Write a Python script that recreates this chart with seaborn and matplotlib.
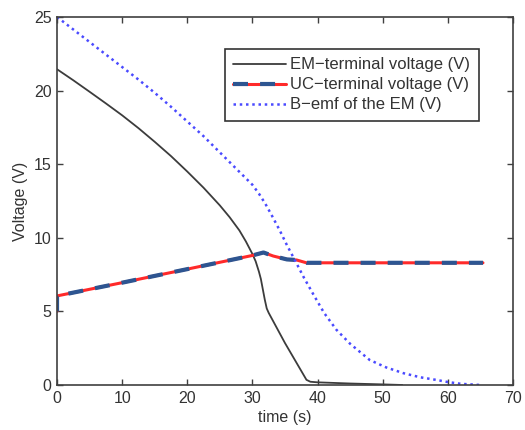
import numpy as np
import pandas as pd
import seaborn as sns
import matplotlib
matplotlib.use("Agg")
import matplotlib.pyplot as plt
from matplotlib.legend_handler import HandlerTuple

# EM terminal voltage (V)
em_time = [0, 2.5, 5, 7.5, 10, 12.5, 15, 17.5, 20, 22.5, 25, 26.5, 28, 29, 30, 30.5,
           31, 31.3, 31.6, 31.9, 32.2, 32.5, 35, 38.3, 38.9, 40, 45, 50, 53]
em_volt = [21.45, 20.7, 19.92, 19.13, 18.32, 17.45, 16.52, 15.55, 14.5, 13.4, 12.2, 11.4,
           10.5, 9.75, 8.9, 8.4, 7.7, 7.2, 6.5, 5.8, 5.2, 4.9, 2.85, 0.35, 0.22, 0.18,
           0.1, 0.04, 0.0]

# UC terminal voltage (V)
uc_time = [0, 0, 10, 20, 30, 31.7, 33.2, 35.3, 36.8, 38.3, 45, 55, 65.4]
uc_volt = [5.0, 6.05, 6.95, 7.87, 8.8, 9.0, 8.76, 8.53, 8.49, 8.3, 8.3, 8.3, 8.3]

# Back-emf of the EM (V)
bemf_time = [0, 2.5, 5, 7.5, 10, 12.5, 15, 17.5, 20, 22.5, 25, 27.5, 30, 31, 32, 33,
             34.2, 35.3, 36.5, 37.9, 39.3, 41, 42.9, 45, 48, 50.5, 53.2, 55.8, 58.3,
             60, 62, 65]
bemf_volt = [25, 24.15, 23.3, 22.45, 21.6, 20.75, 19.85, 18.9, 17.9, 16.9, 15.8, 14.7,
             13.6, 13.0, 12.3, 11.5, 10.5, 9.5, 8.5, 7.3, 6.2, 4.9, 3.75, 2.8, 1.7,
             1.2, 0.8, 0.52, 0.34, 0.2, 0.08, 0.0]

x_ticks = [0, 10, 20, 30, 40, 50, 60, 70]
y_ticks = [0, 5, 10, 15, 20, 25]

sns.set_style("ticks")
plt.rcParams["font.family"] = ["Liberation Sans", "DejaVu Sans"]
plt.rcParams["xtick.direction"] = "in"
plt.rcParams["ytick.direction"] = "in"

fig = plt.figure(figsize=(5.25, 4.3), dpi=100)
ax = fig.add_axes([0.1086, 0.1047, 0.8684, 0.8558])

em_df = pd.DataFrame({"t": em_time, "v": em_volt})
uc_df = pd.DataFrame({"t": uc_time, "v": uc_volt})
bemf_df = pd.DataFrame({"t": bemf_time, "v": bemf_volt})

sns.lineplot(data=em_df, x="t", y="v", ax=ax, sort=False, estimator=None,
             color="#3c3c3c", lw=1.3)
sns.lineplot(data=uc_df, x="t", y="v", ax=ax, sort=False, estimator=None,
             color="#ff2a2a", lw=2.2)
sns.lineplot(data=uc_df, x="t", y="v", ax=ax, sort=False, estimator=None,
             color="#2d5591", lw=3.0, linestyle=(0, (3.6, 2.9)))
sns.lineplot(data=bemf_df, x="t", y="v", ax=ax, sort=False, estimator=None,
             color="#4a4aff", lw=1.8, linestyle=(0, (1, 1.5)))

lines = ax.get_lines()
h_em, h_red, h_blue, h_bemf = lines[0], lines[1], lines[2], lines[3]

ax.set_xlim(0, 70)
ax.set_ylim(0, 25)
ax.set_xticks(x_ticks)
ax.set_yticks(y_ticks)
ax.tick_params(top=True, right=True, labelsize=11.5, length=4, width=1,
               color="#404040", labelcolor="#333333", pad=4)
for s in ax.spines.values():
    s.set_visible(True)
    s.set_color("#404040")
    s.set_linewidth(1.2)

ax.set_xlabel("time (s)", fontsize=11.5, color="#333333", labelpad=3)
ax.set_ylabel("Voltage (V)", fontsize=11.5, color="#333333", labelpad=4)

leg = ax.legend([h_em, (h_red, h_blue), h_bemf],
                ["EM\u2212terminal voltage (V)", "UC\u2212terminal voltage (V)",
                 "B\u2212emf of the EM (V)"],
                handler_map={tuple: HandlerTuple(ndivide=1)},
                loc="upper right", bbox_to_anchor=(0.925, 0.913),
                borderaxespad=0,
                fontsize=12, handlelength=3.2, handletextpad=0.25,
                labelspacing=0.3, borderpad=0.5, frameon=True,
                fancybox=False, edgecolor="#333333", framealpha=1)
leg.get_frame().set_linewidth(1.2)
for t in leg.get_texts():
    t.set_color("#333333")

fig.savefig("out.png", dpi=100)
